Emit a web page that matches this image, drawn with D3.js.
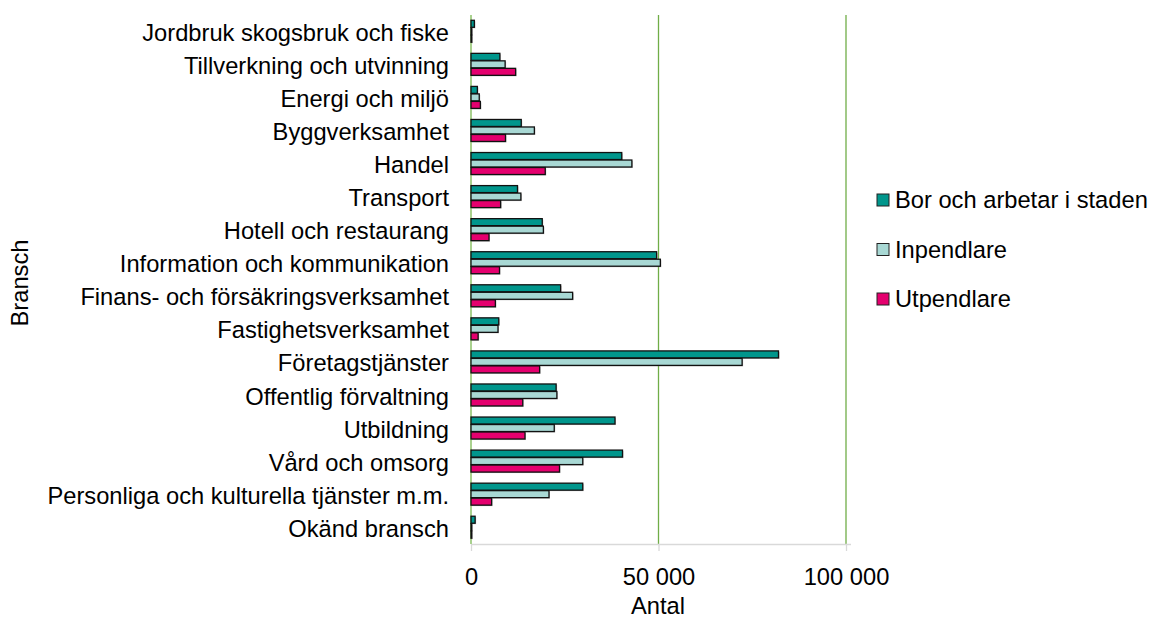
<!DOCTYPE html>
<html><head><meta charset="utf-8">
<script src="https://cdn.jsdelivr.net/npm/d3@7"></script>
<style>body{margin:0;background:#fff}svg{display:block;font-family:"Liberation Sans",Arial,sans-serif}</style>
</head><body><svg id="c" width="1151" height="619"></svg>
<script>
const categories = ["Jordbruk skogsbruk och fiske","Tillverkning och utvinning","Energi och miljö","Byggverksamhet","Handel","Transport","Hotell och restaurang","Information och kommunikation","Finans- och försäkringsverksamhet","Fastighetsverksamhet","Företagstjänster","Offentlig förvaltning","Utbildning","Vård och omsorg","Personliga och kulturella tjänster m.m.","Okänd bransch"];
const seriesNames = ["Bor och arbetar i staden","Inpendlare","Utpendlare"];
const borOchArbetar = [900,7700,1700,13400,40200,12400,19000,49500,23900,7400,82000,22700,38400,40400,29800,1100];
const inpendlare   = [200,9100,2200,16900,42900,13300,19300,50500,27100,7200,72300,22900,22200,29800,20800,200];
const utpendlare   = [200,11900,2500,9200,19800,7900,4800,7600,6500,1900,18300,13800,14400,23600,5500,200];
const xTicks = [0,50000,100000];
const colors = ["#00968c","#a8d8d4","#e4006e"];

const FS = 23.7;
const series = [borOchArbetar, inpendlare, utpendlare];
const svg = d3.select("#c");
const m = {left:471, right:846, top:15, bottom:544};
const x = d3.scaleLinear().domain([0,100000]).range([m.left,m.right]);
const y = d3.scaleBand().domain(categories).range([m.top,m.bottom]).paddingInner(0.32).paddingOuter(0.16);
const sub = d3.scaleBand().domain(d3.range(3)).range([0,y.bandwidth()]);

// gridlines
svg.append("g").selectAll("line").data(xTicks.slice(1)).join("line")
  .attr("x1",d=>x(d)).attr("x2",d=>x(d)).attr("y1",m.top).attr("y2",m.bottom)
  .attr("stroke","#70ad47").attr("stroke-width",1.3);

// bottom axis
const ax = svg.append("g").attr("transform",`translate(0,${m.bottom})`)
  .call(d3.axisBottom(x).tickValues(xTicks).tickSize(7).tickPadding(0)
    .tickFormat(d=>d3.format(",")(d).replace(/,/g," ")));
ax.select(".domain").attr("stroke","#d9d9d9").attr("stroke-width",1.3).attr("d",`M${m.left},0.5H${m.right+5}`);
ax.selectAll(".tick line").attr("stroke","#d9d9d9").attr("stroke-width",1.3);
ax.selectAll(".tick text").attr("font-size",FS).attr("fill","#000")
  .attr("font-family","Liberation Sans, Arial, sans-serif").attr("y",33).attr("dy","0.35em");

// zero line
svg.append("line").attr("x1",x(0)).attr("x2",x(0)).attr("y1",m.top).attr("y2",m.bottom)
  .attr("stroke","#a9d18e").attr("stroke-width",2);

// bars
categories.forEach((c,i)=>{
  series.forEach((s,j)=>{
    svg.append("rect")
      .attr("x",x(0)+1).attr("y",y(c)+sub(j)+1)
      .attr("width",Math.max(0,x(s[i])-x(0)))
      .attr("height",sub.bandwidth()-0.5)
      .attr("fill","#888").attr("opacity",0.5);
    svg.append("rect")
      .attr("x",x(0)).attr("y",y(c)+sub(j))
      .attr("width",Math.max(0,x(s[i])-x(0)))
      .attr("height",sub.bandwidth()-0.5)
      .attr("fill",colors[j]).attr("stroke","#111").attr("stroke-width",1.3);
  });
});

// category labels
svg.append("g").selectAll("text").data(categories).join("text")
  .attr("x",449).attr("y",d=>y(d)+y.bandwidth()/2+1).attr("dy","0.35em")
  .attr("text-anchor","end").attr("font-size",FS).attr("fill","#000").text(d=>d);

// axis titles
svg.append("text").attr("x",658).attr("y",606).attr("dy","0.35em").attr("text-anchor","middle").attr("font-size",FS).text("Antal");
svg.append("text").attr("transform","translate(20,283) rotate(-90)").attr("dy","0.35em").attr("text-anchor","middle").attr("font-size",FS).text("Bransch");

// legend
const lg = svg.append("g").selectAll("g").data(seriesNames).join("g")
  .attr("transform",(d,i)=>`translate(877,${200+i*49.5})`);
lg.append("rect").attr("x",0).attr("y",-6).attr("width",12).attr("height",12)
  .attr("fill",(d,i)=>colors[i]).attr("stroke","#222").attr("stroke-width",1);
lg.append("text").attr("x",18).attr("y",0).attr("dy","0.35em").attr("font-size",FS).text(d=>d);
</script></body></html>
